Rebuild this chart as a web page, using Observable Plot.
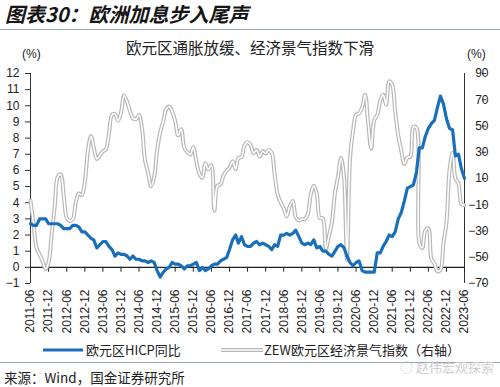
<!DOCTYPE html>
<html>
<head>
<meta charset="utf-8">
<script src="https://cdn.jsdelivr.net/npm/d3@7"></script>
<script src="https://cdn.jsdelivr.net/npm/@observablehq/plot@0.6"></script>
<style>
  html, body { margin: 0; padding: 0; background: #fff; }
  #wrap { position: relative; width: 500px; height: 387px; overflow: hidden; background: #fff;
          font-family: "Noto Sans CJK SC", "Liberation Sans", sans-serif; color: #1e1e1e; }
  .abs { position: absolute; white-space: nowrap; }
  #title { left: 5px; top: 3px; font-size: 20px; line-height: 22px; font-weight: 700; font-style: italic; color: #151515; }
  .hr { position: absolute; left: 0; width: 500px; height: 1px; background: #97a6b8; }
  #subtitle { left: 0; width: 500px; text-align: center; top: 37px; font-size: 15.5px; line-height: 20px; color: #222; }
  .unit { top: 47px; font-size: 12px; line-height: 14px; font-family: "Liberation Sans", sans-serif; color: #222; }
  #chart { position: absolute; left: 0; top: 60px; }
  .leg { top: 342px; font-size: 13px; line-height: 16px; color: #222; }
  #source { left: 4px; top: 369px; font-size: 13.5px; line-height: 16px; color: #222; }
  #wm { left: 400px; top: 359px; font-size: 13px; line-height: 15px; color: #cfcfcf; }
</style>
</head>
<body>
<div id="wrap">
  <div id="title" class="abs">图表30：欧洲加息步入尾声</div>
  <div class="hr" style="top:29px"></div>
  <div id="subtitle" class="abs">欧元区通胀放缓、经济景气指数下滑</div>
  <div class="abs unit" style="left:22px">(%)</div>
  <div class="abs unit" style="left:467px">(%)</div>
  <div id="chart"></div>
  <svg class="abs" style="left:43px;top:346px" width="40" height="8"><line x1="0" y1="4" x2="40" y2="4" stroke="#1a6fba" stroke-width="3.2"/></svg>
  <div class="abs leg" style="left:86px">欧元区HICP同比</div>
  <svg class="abs" style="left:221px;top:346px" width="42" height="8"><line x1="0" y1="4" x2="42" y2="4" stroke="#b8b8b8" stroke-width="4"/><line x1="0" y1="4" x2="42" y2="4" stroke="#fff" stroke-width="1.6"/></svg>
  <div class="abs leg" style="left:264px">ZEW欧元区经济景气指数（右轴）</div>
  <div class="hr" style="top:362px"></div>
  <div id="wm" class="abs">◌ 赵伟宏观探索</div>
  <div id="source" class="abs">来源：Wind，国金证券研究所</div>
</div>
<script>
// Euro area HICP y/y (%), monthly 2011-06 .. 2023-06
const hicp = [
  2.7, 2.6, 2.6, 3.0, 3.0, 3.0, 2.7,
  2.7, 2.7, 2.7, 2.6, 2.4, 2.4, 2.4, 2.6, 2.6, 2.5, 2.2, 2.2,
  2.0, 1.8, 1.7, 1.2, 1.4, 1.6, 1.6, 1.3, 1.1, 0.7, 0.9, 0.8,
  0.8, 0.7, 0.5, 0.7, 0.5, 0.5, 0.4, 0.4, 0.3, 0.4, 0.3, -0.2,
  -0.6, -0.3, -0.1, 0.0, 0.3, 0.2, 0.2, 0.1, -0.1, 0.1, 0.1, 0.2,
  0.3, -0.2, 0.0, -0.2, -0.1, 0.1, 0.2, 0.2, 0.4, 0.5, 0.6, 1.1,
  1.7, 2.0, 1.5, 1.9, 1.4, 1.3, 1.3, 1.5, 1.6, 1.4, 1.5, 1.4,
  1.3, 1.1, 1.4, 1.3, 2.0, 2.0, 2.1, 2.0, 2.1, 2.3, 1.9, 1.5,
  1.4, 1.5, 1.4, 1.7, 1.2, 1.3, 1.0, 1.0, 0.8, 0.7, 1.0, 1.3,
  1.4, 1.2, 0.7, 0.3, 0.1, 0.3, 0.4, -0.2, -0.3, -0.3, -0.3, -0.3,
  0.9, 0.9, 1.3, 1.6, 2.0, 1.9, 2.2, 3.0, 3.4, 4.1, 4.9, 5.0,
  5.1, 5.9, 7.4, 7.4, 8.1, 8.6, 8.9, 9.1, 9.9, 10.6, 10.1, 9.2,
  8.6, 8.5, 6.9, 7.0, 6.1, 5.5
];
// ZEW euro area economic sentiment (right axis), monthly 2011-06 .. 2023-06
const zew = [
  -6.8, -24.0, -43.0, -48.0, -53.0, -59.0, -53.8,
  -32.5, -11.0, 11.0, 13.1, -2.4, -20.0, -22.3, -21.0, -8.0, -1.4, -2.6, 7.6,
  31.2, 42.4, 33.4, 24.9, 27.6, 30.6, 32.2, 44.0, 58.6, 59.1, 54.1, 60.2,
  73.3, 68.3, 61.5, 55.8, 55.2, 58.4, 48.1, 23.7, 14.2, 4.1, 11.0, 31.8,
  45.2, 53.7, 62.4, 64.8, 61.2, 53.7, 42.7, 47.6, 33.3, 30.1, 28.3, 33.9,
  22.7, 13.6, 10.6, 21.5, 16.8, 20.2, -14.7, 4.6, 5.4, 12.3, 15.8, 18.1,
  23.2, 17.1, 25.6, 26.3, 35.1, 37.7, 35.6, 29.3, 31.7, 26.7, 30.9, 29.0,
  31.8, 29.3, 13.4, -2.1, -8.2, -12.6, -18.7, -11.1, -7.2, -19.4, -22.0, -21.0,
  -20.9, -16.6, -2.5, 4.5, -1.6, -20.2, -20.3, -43.6, -33.7, -23.5, -1.0, 11.2,
  25.6, 10.4, -52.0, 25.2, 46.0, 58.6, 59.6, 64.0, 73.9, 52.3, 32.8, 54.4,
  58.3, 69.6, 74.0, 66.3, 84.0, 81.3, 61.2, 42.7, 31.1, 21.0, 25.9, 26.8,
  49.4, 48.6, -38.7, -43.0, -29.5, -28.0, -51.1, -54.9, -60.7, -59.7, -38.7, -23.6,
  16.7, 29.7, 10.0, 6.4, -9.4, -10.3
];
const startMonth = "2011-06";
const xTickLabels = [
  "2011-06","2011-12","2012-06","2012-12","2013-06","2013-12","2014-06","2014-12",
  "2015-06","2015-12","2016-06","2016-12","2017-06","2017-12","2018-06","2018-12",
  "2019-06","2019-12","2020-06","2020-12","2021-06","2021-12","2022-06","2022-12","2023-06"
];
const leftTicks = [-1, 0, 1, 2, 3, 4, 5, 6, 7, 8, 9, 10, 11, 12];
const rightTicks = [90, 70, 50, 30, 10, -10, -30, -50, -70];

const parse = d3.utcParse("%Y-%m");
const fmt = d3.utcFormat("%Y-%m");
const t0 = parse(startMonth);
const months = hicp.map((_, i) => d3.utcMonth.offset(t0, i));
const tickDates = xTickLabels.map(parse);
const xDomain = [tickDates[0], tickDates[tickDates.length - 1]];

// right axis (-70..90) mapped onto the left scale (-1..12)
const toLeft = d3.scaleLinear([-70, 90], [-1, 12]);
const hicpData = months.map((d, i) => ({date: d, v: hicp[i]}));
const zewData = months.map((d, i) => ({date: d, v: toLeft(zew[i])}));

const chart = Plot.plot({
  width: 500,
  height: 285,
  marginTop: 13,
  marginBottom: 62,
  marginLeft: 30,
  marginRight: 36,
  style: {fontFamily: "'Liberation Sans', Arial, sans-serif", fontSize: "12px", color: "#222", background: "transparent"},
  x: {type: "utc", domain: xDomain},
  y: {domain: [-1, 12]},
  marks: [
    Plot.axisY({anchor: "left", ticks: leftTicks, tickSize: 5, tickPadding: 6, label: null, stroke: "#333"}),
    Plot.axisY({anchor: "right", ticks: rightTicks.map(toLeft), tickFormat: d => {
      const r = Math.round(toLeft.invert(d)); return r < 0 ? "\u2212" + (-r) : String(r);
    }, tickSize: 4, tickPadding: 3, textAnchor: "end", dx: 17, label: null, stroke: "#333"}),
    Plot.axisX({ticks: tickDates, tickFormat: fmt, tickRotate: -90, tickSize: 0, tickPadding: 6, label: null}),
    Plot.ruleX([xDomain[0]], {stroke: "#333", strokeWidth: 1}),
    Plot.ruleX([xDomain[1]], {stroke: "#333", strokeWidth: 1}),
    Plot.ruleY([0], {stroke: "#222", strokeWidth: 1.2}),
    Plot.ruleX(tickDates, {y1: 0, y2: -0.3, stroke: "#222", strokeWidth: 1}),
    Plot.line(zewData, {x: "date", y: "v", stroke: "#b8b8b8", strokeWidth: 4, curve: "catmull-rom"}),
    Plot.line(zewData, {x: "date", y: "v", stroke: "#ffffff", strokeWidth: 1.6, curve: "catmull-rom"}),
    Plot.line(hicpData, {x: "date", y: "v", stroke: "#1a6fba", strokeWidth: 3.2, strokeLinejoin: "round"})
  ]
});
document.getElementById("chart").appendChild(chart);
</script>
</body>
</html>
